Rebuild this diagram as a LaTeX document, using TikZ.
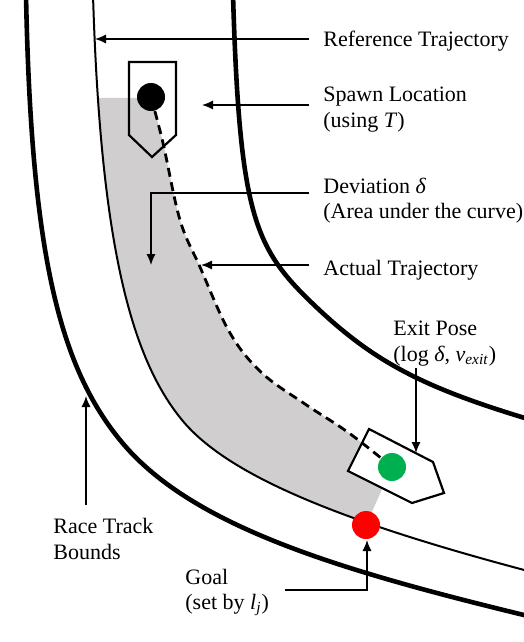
\documentclass[tikz,border=0pt]{standalone}
\usepackage{fontspec}
\setmainfont{Liberation Serif}
\usetikzlibrary{arrows.meta}
\definecolor{devgrey}{RGB}{208,206,207}
\definecolor{exitgreen}{RGB}{0,176,80}
\definecolor{goalred}{RGB}{255,0,0}
\begin{document}
\begin{tikzpicture}[x=0.5pt,y=-0.5pt,
  font=\fontsize{11}{13}\selectfont,
  bound/.style={line width=2.3pt},
  reftraj/.style={line width=1pt},
  acttraj/.style={line width=1.4pt, dash pattern=on 4.5pt off 2.8pt},
  carbox/.style={line width=1.1pt, line join=miter},
  callout/.style={line width=0.75pt, -{Latex[length=5.5pt,width=4.6pt]}},
  lbl/.style={anchor=base west, inner sep=0pt},
  dotnode/.style={circle, minimum size=14pt, inner sep=0pt}]
\useasboundingbox (0,0) rectangle (524,642);

% deviation area
\begin{scope}
  \clip (93,-5) .. controls (100.5,245) and (131.2,358.2) .. (182,420)
        .. controls (226.5,474) and (334.6,519.8) .. (528,571)
        -- (600,571) -- (600,-20) -- (93,-20) -- cycle;
  \fill[devgrey] (0,98) -- (151,98) -- plot[smooth,tension=0.6] coordinates {(151,97) (163,143) (180,220) (200,267) (230,333) (262,373) (305,404) (349,433) (392,467)}
        -- (366,525) -- (340,585) -- (0,585) -- cycle;
\end{scope}

% race track bounds
\draw[bound] (26,-5) .. controls (31,245) and (57,363) .. (120,440)
             .. controls (189,525) and (334,569) .. (528,616);
\draw[bound] (233,-5) .. controls (239.6,215) and (254.4,247.5) .. (312,303)
             .. controls (373.2,362) and (422.6,387.1) .. (528,419);

% reference trajectory
\draw[reftraj] (93,-5) .. controls (100.5,245) and (131.2,358.2) .. (182,420)
               .. controls (226.5,474) and (334.6,519.8) .. (528,571);

% exit car fill
\fill[white] (348,471) -- (369,429) -- (433,462) -- (444,493) -- (412,503) -- cycle;

% actual trajectory
\draw[acttraj] plot[smooth,tension=0.6] coordinates {(151,97) (163,143) (180,220) (200,267) (230,333) (262,373) (305,404) (349,433) (392,467)};

% cars
\draw[carbox] (129,62) -- (176,62) -- (176,135) -- (152,157) -- (129,135) -- cycle;
\draw[carbox] (348,471) -- (369,429) -- (433,462) -- (444,493) -- (412,503) -- cycle;

% dots
\node[dotnode, fill=black] (spawn) at (151,97) {};
\node[dotnode, fill=exitgreen] (exit) at (392,467) {};
\node[dotnode, fill=goalred] (goal) at (366,525) {};

% labels
\node[lbl] (refL) at (323,47) {Reference Trajectory};
\node[lbl] (spawnL) at (323,102) {Spawn Location};
\node[lbl] (spawnL2) at (323,127) {(using \textit{T})};
\node[lbl] (devL) at (323,193) {Deviation \textit{δ}};
\node[lbl] (devL2) at (323,218) {(Area under the curve)};
\node[lbl] (actL) at (323,275) {Actual Trajectory};
\node[lbl] (exitL) at (393,335) {Exit Pose};
\node[lbl] (exitL2) at (393,361) {(log \textit{δ}, \textit{v}\textsubscript{\textit{exit}})};
\node[lbl] (raceL) at (53,533) {Race Track};
\node[lbl] (raceL2) at (53,559) {Bounds};
\node[lbl] (goalL) at (185,584) {Goal};
\node[lbl] (goalL2) at (185,609) {(set by \textit{l}\textsubscript{\textit{j}})};

% callout ends
\coordinate (refS) at (309,39);   \coordinate (refT) at (95,39);
\coordinate (spawnS) at (309,105); \coordinate (spawnT) at (202,105);
\coordinate (devS) at (309,193);  \coordinate (devT) at (151,265);
\coordinate (actS) at (309,265);  \coordinate (actT) at (201,265);
\coordinate (exitS) at (416,368); \coordinate (exitT) at (416,453);
\coordinate (raceS) at (86,505);  \coordinate (raceT) at (86,396);
\coordinate (goalS) at (285,590); \coordinate (goalT) at (367,540);

\draw[callout] (refS) -- (refT);
\draw[callout] (spawnS) -- (spawnT);
\draw[callout] (devS) -| (devT);
\draw[callout] (actS) -- (actT);
\draw[callout] (exitS) -- (exitT);
\draw[callout] (raceS) -- (raceT);
\draw[callout] (goalS) -| (goalT);
\end{tikzpicture}
\end{document}
